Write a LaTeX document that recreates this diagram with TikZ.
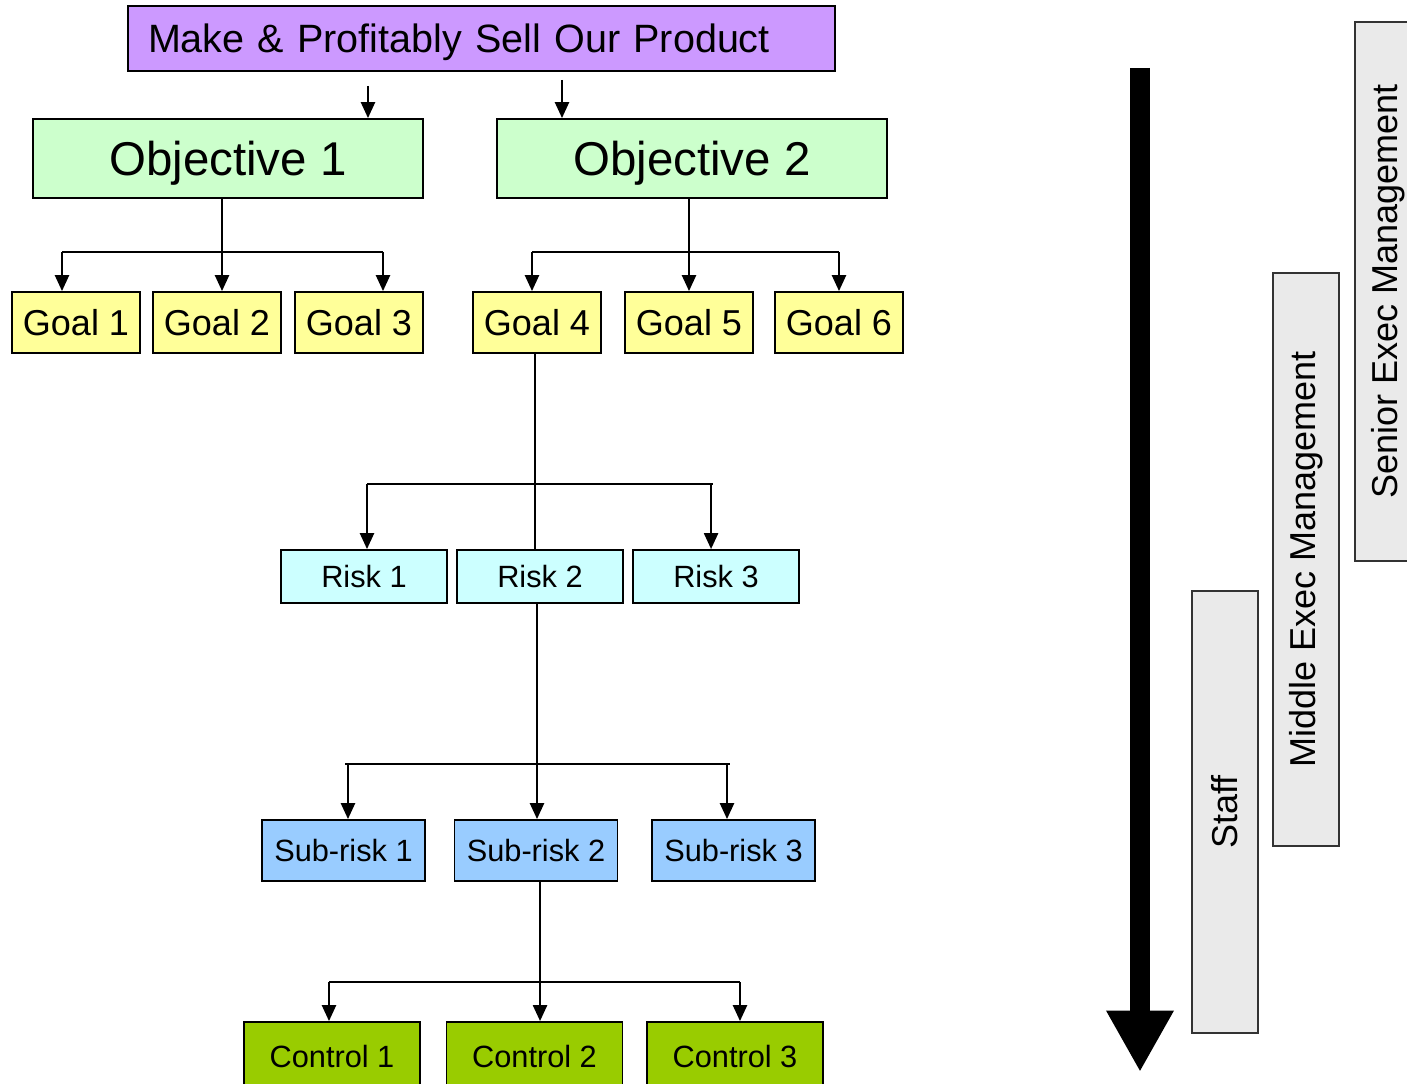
\documentclass[tikz,border=0pt]{standalone}
\usepackage{fontspec}
\setmainfont{Liberation Sans}
\usetikzlibrary{arrows.meta,positioning}
\definecolor{fpurple}{HTML}{CC99FF}
\definecolor{fmint}{HTML}{CCFFCC}
\definecolor{fyellow}{HTML}{FFFF99}
\definecolor{fcyan}{HTML}{CCFFFF}
\definecolor{fsky}{HTML}{99CCFF}
\definecolor{flime}{HTML}{99CC00}
\definecolor{fgrey}{HTML}{EAEAEA}
\tikzset{
  box/.style={draw=black, line width=1.1pt, inner sep=0pt, align=center},
  mission/.style={box, fill=fpurple, minimum height=1.3cm, text width=13.34cm,
    inner xsep=0.4cm, align=left, text depth=0pt, font=\fontsize{22.5}{26}\selectfont},
  objective/.style={box, fill=fmint, minimum width=7.8cm, minimum height=1.58cm,
    text depth=0pt, font=\fontsize{27}{31}\selectfont},
  goal/.style={box, fill=fyellow, minimum width=2.56cm, minimum height=1.22cm,
    font=\fontsize{20.5}{24}\selectfont},
  risk/.style={box, fill=fcyan, minimum width=3.32cm, minimum height=1.06cm,
    font=\fontsize{17.5}{21}\selectfont},
  subrisk/.style={box, fill=fsky, minimum width=3.26cm, minimum height=1.22cm,
    font=\fontsize{17.5}{21}\selectfont},
  control/.style={box, fill=flime, minimum width=3.52cm, minimum height=1.4cm,
    font=\fontsize{17.5}{21}\selectfont},
  level/.style={draw=black!80, line width=1.1pt, fill=fgrey, rotate=90, inner sep=0pt,
    minimum height=1.32cm, font=\fontsize{20.5}{24}\selectfont},
  link/.style={line width=1.1pt, -{Triangle[width=8pt,length=9pt]}},
  bar/.style={line width=1.1pt},
}

\begin{document}
\begin{tikzpicture}[x=0.02cm, y=-0.02cm]
\useasboundingbox (0,0) rectangle (1407,1084);
% mission and objectives
\node[mission] (top) at (481.5,38.5) {Make \& Profitably Sell Our Product};
\node[objective] (obj1) at (228,158.5) {Objective 1};
\node[objective] (obj2) at (692,158.5) {Objective 2};
\coordinate (t1) at (368,86);
\coordinate (t2) at (562,80);
\draw[link] (t1) -- (t1 |- obj1.north);
\draw[link] (t2) -- (t2 |- obj2.north);
% goals
\foreach \n/\x in {1/76,2/217,3/359,4/537,5/689,6/839}
  \node[goal] (g\n) at (\x,322.5) {Goal \n};
\coordinate (ja) at (62,252);
\coordinate (jb) at (383,252);
\draw[bar] (ja) -- (jb);
\draw[link] ([xshift=-3.4pt]obj1.south) -- ([xshift=-3.4pt]obj1.south |- g2.north);
\draw[link] (ja) -- (ja |- g1.north);
\draw[link] (jb) -- (jb |- g3.north);
\coordinate (jc) at (532,252);
\coordinate (jd) at (839,252);
\draw[bar] (jc) -- (jd);
\draw[link] ([xshift=-1.7pt]obj2.south) -- ([xshift=-1.7pt]obj2.south |- g5.north);
\draw[link] (jc) -- (jc |- g4.north);
\draw[link] (jd) -- (jd |- g6.north);
% risks
\foreach \n/\x in {1/364,2/540,3/716}
  \node[risk] (r\n) at (\x,576.5) {Risk \n};
\coordinate (ka) at (367,484);
\coordinate (kb) at (713,484);
\draw[bar] (ka) -- (kb);
\draw[bar] ([xshift=-1.1pt]g4.south) -- ([xshift=-1.1pt]g4.south |- r2.north);
\draw[link] (ka) -- (ka |- r1.north);
\draw[link] ([xshift=-1.1pt]kb) -- ([xshift=-1.1pt]kb |- r3.north);
% sub-risks
\foreach \n/\x in {1/343.5,2/536,3/733.5}
  \node[subrisk] (s\n) at (\x,850.5) {Sub-risk \n};
\coordinate (la) at (345,764);
\coordinate (lb) at (730,764);
\draw[bar] (la) -- (lb);
\draw[link] ([xshift=-1.7pt]r2.south) -- ([xshift=-1.7pt]r2.south |- s2.north);
\draw[link] ([xshift=1.7pt]la) -- ([xshift=1.7pt]la |- s1.north);
\draw[link] ([xshift=-1.7pt]lb) -- ([xshift=-1.7pt]lb |- s3.north);
% controls
\foreach \n/\x in {1/332,2/534.5,3/735}
  \node[control] (c\n) at (\x,1057) {Control \n};
\coordinate (ma) at (329,982);
\coordinate (mb) at (740,982);
\draw[bar] (ma) -- (mb);
\draw[link] ([xshift=2.3pt]s2.south) -- ([xshift=2.3pt]s2.south |- c2.north);
\draw[link] (ma) -- (ma |- c1.north);
\draw[link] (mb) -- (mb |- c3.north);
% responsibility levels
\coordinate (flowtop) at (1140,68);
\coordinate (flowbot) at (1140,1072);
\draw[line width=11.9pt, -{Triangle[width=36pt,length=35pt]}] (flowtop) -- (flowbot);
\node[level, minimum width=8.84cm] (staff) at (1225,812) {Staff};
\node[level, minimum width=11.46cm] (middle) at (1306,559.5) {Middle Exec Management};
\node[level, minimum width=10.78cm] (senior) at (1388,291.5) {Senior Exec Management};
\end{tikzpicture}
\end{document}
